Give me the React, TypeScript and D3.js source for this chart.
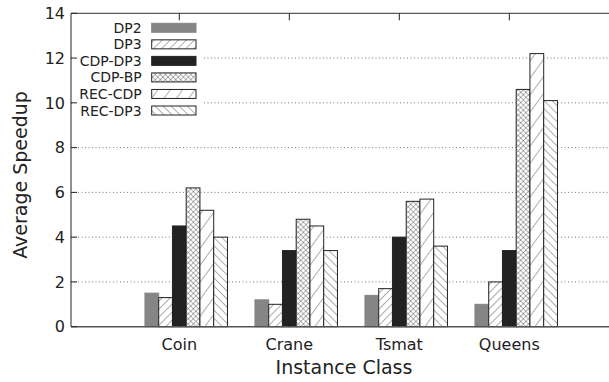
import React from 'react';
import * as d3 from 'd3';

// Average speedup per instance class, one array per solver variant
const categories = ['Coin', 'Crane', 'Tsmat', 'Queens'];
const seriesNames = ['DP2', 'DP3', 'CDP-DP3', 'CDP-BP', 'REC-CDP', 'REC-DP3'];
const dp2 = [1.5, 1.2, 1.4, 1.0];
const dp3 = [1.3, 1.0, 1.7, 2.0];
const cdpDp3 = [4.5, 3.4, 4.0, 3.4];
const cdpBp = [6.2, 4.8, 5.6, 10.6];
const recCdp = [5.2, 4.5, 5.7, 12.2];
const recDp3 = [4.0, 3.4, 3.6, 10.1];
const seriesValues = [dp2, dp3, cdpDp3, cdpBp, recCdp, recDp3];
const yTicks = [0, 2, 4, 6, 8, 10, 12, 14];
const gridTicks = [2, 4, 6, 8, 10, 12];

const W = 609;
const H = 382;
const plot = { left: 71, right: 617, top: 13.3, bottom: 326.7 };
const FONT = '"DejaVu Sans", Verdana, sans-serif';
const TEXT = '#222';

// Fill for each series: solid greys or hatch patterns
const seriesFill = ['#858585', 'url(#hatchFwd)', '#222', 'url(#crossHatch)', 'url(#hatchSteep)', 'url(#hatchBack)'];
const seriesStroke = ['#858585', '#222', '#222', '#222', '#222', '#222'];

export default function App() {
  const x0 = d3
    .scaleBand<string>()
    .domain(categories)
    .range([144.95, 557.45])
    .paddingInner(0.25)
    .paddingOuter(0);
  const x1 = d3.scaleBand<string>().domain(seriesNames).range([0, x0.bandwidth()]).padding(0);
  const y = d3.scaleLinear().domain([0, 14]).range([plot.bottom, plot.top]);

  const tickX = (c: string) => (x0(c) ?? 0) + (x1('CDP-DP3') ?? 0) + x1.bandwidth() / 2;

  const legendTextX = 141.7;
  const swatchX = 151.7;
  const swatchW = 44.3;
  const rowY = (k: number) => 27.8 + 16.54 * k;

  const hatchLine = { stroke: '#333', strokeWidth: 0.8 };

  return (
    <svg
      width={W}
      height={H}
      viewBox={`0 0 ${W} ${H}`}
      style={{ position: 'absolute', left: 0, top: 0, background: '#fff' }}
    >
      <defs>
        <pattern id="hatchFwd" patternUnits="userSpaceOnUse" width={5.7} height={10} patternTransform="rotate(45)">
          <rect width={5.7} height={10} fill="#fff" />
          <line x1={0} y1={0} x2={0} y2={10} {...hatchLine} />
        </pattern>
        <pattern id="hatchSteep" patternUnits="userSpaceOnUse" width={10} height={10} patternTransform="rotate(36)">
          <rect width={10} height={10} fill="#fff" />
          <line x1={0} y1={0} x2={0} y2={10} {...hatchLine} />
        </pattern>
        <pattern id="hatchBack" patternUnits="userSpaceOnUse" width={5.7} height={10} patternTransform="rotate(-45)">
          <rect width={5.7} height={10} fill="#fff" />
          <line x1={0} y1={0} x2={0} y2={10} {...hatchLine} />
        </pattern>
        <pattern id="crossHatch" patternUnits="userSpaceOnUse" width={3.6} height={3.6} patternTransform="rotate(45)">
          <rect width={3.6} height={3.6} fill="#fff" />
          <line x1={0} y1={0} x2={0} y2={3.6} stroke="#333" strokeWidth={0.7} />
          <line x1={0} y1={0} x2={3.6} y2={0} stroke="#333" strokeWidth={0.7} />
        </pattern>
      </defs>

      {/* dotted grid */}
      {gridTicks.map((t) => (
        <line
          key={`g${t}`}
          x1={plot.left}
          x2={plot.right}
          y1={y(t)}
          y2={y(t)}
          stroke="#777"
          strokeWidth={1}
          strokeDasharray="1,2.5"
        />
      ))}

      {/* legend background hides the grid behind it */}
      <rect x={72} y={14} width={130} height={105} fill="#fff" />

      {/* bars */}
      {categories.map((c, i) => (
        <g key={c} transform={`translate(${x0(c)},0)`}>
          {seriesNames.map((s, j) => {
            const v = seriesValues[j][i];
            return (
              <rect
                key={s}
                x={x1(s)}
                y={y(v)}
                width={x1.bandwidth()}
                height={y(0) - y(v)}
                fill={seriesFill[j]}
                stroke={seriesStroke[j]}
                strokeWidth={1}
              />
            );
          })}
        </g>
      ))}

      {/* frame */}
      <line x1={plot.left} x2={plot.right} y1={plot.top} y2={plot.top} stroke="#333" strokeWidth={1} />
      <line x1={plot.left} x2={plot.left} y1={plot.top} y2={plot.bottom} stroke="#222" strokeWidth={1} />
      <line x1={plot.left} x2={plot.right} y1={plot.bottom} y2={plot.bottom} stroke="#555" strokeWidth={1.5} />

      {/* y ticks and labels */}
      {yTicks.map((t) => (
        <g key={`y${t}`}>
          <line x1={plot.left} x2={plot.left + 6} y1={y(t)} y2={y(t)} stroke="#222" strokeWidth={1} />
          <text
            x={65}
            y={y(t)}
            dy="0.36em"
            textAnchor="end"
            fontFamily={FONT}
            fontSize={16}
            fill={TEXT}
          >
            {t}
          </text>
        </g>
      ))}

      {/* x ticks and category labels */}
      {categories.map((c) => (
        <g key={`x${c}`}>
          <line x1={tickX(c)} x2={tickX(c)} y1={plot.bottom} y2={plot.bottom - 7} stroke="#222" strokeWidth={1} />
          <line x1={tickX(c)} x2={tickX(c)} y1={plot.top} y2={plot.top + 7} stroke="#222" strokeWidth={1} />
          <text x={tickX(c)} y={350} textAnchor="middle" fontFamily={FONT} fontSize={16} fill={TEXT}>
            {c}
          </text>
        </g>
      ))}

      {/* axis titles */}
      <text x={344} y={374.3} textAnchor="middle" fontFamily={FONT} fontSize={19} fill={TEXT}>
        Instance Class
      </text>
      <text
        transform={`translate(27,175) rotate(-90)`}
        textAnchor="middle"
        fontFamily={FONT}
        fontSize={19}
        fill={TEXT}
      >
        Average Speedup
      </text>

      {/* legend */}
      {seriesNames.map((s, k) => (
        <g key={`l${s}`}>
          <text
            x={legendTextX}
            y={rowY(k)}
            dy="0.36em"
            textAnchor="end"
            fontFamily={FONT}
            fontSize={14}
            fill={TEXT}
          >
            {s}
          </text>
          <rect
            x={swatchX}
            y={rowY(k) - 4.5}
            width={swatchW}
            height={9}
            fill={seriesFill[k]}
            stroke={seriesStroke[k]}
            strokeWidth={1}
          />
        </g>
      ))}
    </svg>
  );
}
